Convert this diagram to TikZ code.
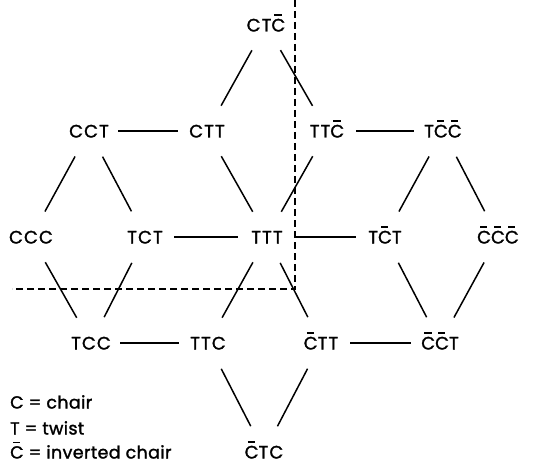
\documentclass[tikz,border=0pt]{standalone}
\usepackage{fontspec}
\setmainfont{Poppins}[LetterSpace=2, FakeBold=1.5]
\newfontfamily\labelfont{Poppins}[LetterSpace=6, FakeBold=1.5]
% inverted chair: C with a short bar above it
\newcommand\Cb{\mbox{\rlap{\hspace{0.17em}\rule[0.88em]{0.40em}{0.09em}}C}}
\begin{document}
\begin{tikzpicture}[x=1pt,y=-1pt,
  conf/.style={inner sep=0pt, text height=13pt, text depth=0pt, font=\labelfont\fontsize{18}{18}\selectfont},
  legend/.style={inner sep=0pt, text height=13pt, text depth=0pt, anchor=west, font=\fontsize{17.5}{17.5}\selectfont},
  link/.style={line width=1.5pt, shorten >=29pt, shorten <=29pt},
  cut/.style={line width=1.3pt, dash pattern=on 7pt off 4pt}]
\useasboundingbox (0,0) rectangle (545,465);

% conformations
\node[conf] (ctcb)   at (266,25)  {CT\Cb};
\node[conf] (cct)    at (89,131)  {CCT};
\node[conf] (ctt)    at (207,131) {CTT};
\node[conf] (ttcb)   at (327,131) {TT\Cb};
\node[conf] (tcbcb)  at (443,131) {T\Cb\Cb};
\node[conf] (ccc)    at (31,237)  {CCC};
\node[conf] (tct)    at (145,237) {TCT};
\node[conf] (ttt)    at (267,237) {TTT};
\node[conf] (tcbt)   at (385,237) {T\Cb T};
\node[conf] (cbcbcb) at (498,237) {\Cb\Cb\Cb};
\node[conf] (tcc)    at (91,343)  {TCC};
\node[conf] (ttc)    at (208,343) {TTC};
\node[conf] (cbtt)   at (321,343) {\Cb TT};
\node[conf] (cbcbt)  at (440,343) {\Cb\Cb T};
\node[conf] (cbtc)   at (264,452) {\Cb TC};

% interconversions
\foreach \a/\b in {ctcb/ctt, ctcb/ttcb, cct/ctt, ttcb/tcbcb,
                   cct/ccc, cct/tct, ctt/ttt, ttcb/ttt, tcbcb/tcbt, tcbcb/cbcbcb,
                   tct/ttt, ttt/tcbt,
                   ccc/tcc, tct/tcc, ttt/ttc, ttt/cbtt, tcbt/cbcbt, cbcbcb/cbcbt,
                   tcc/ttc, cbtt/cbcbt, ttc/cbtc, cbtt/cbtc}
  \draw[link] (\a.center) -- (\b.center);

% dividing lines
\coordinate (top)    at (295,0);
\coordinate (corner) at (295,289);
\coordinate (left)   at (12,289);
\draw[cut] (top) -- (corner) -- (left);

% legend
\node[legend] (lc) at (10,402) {C = chair};
\node[legend] (lt) at (10,428) {T = twist};
\node[legend] (lb) at (10,452) {\Cb{} = inverted chair};
\end{tikzpicture}
\end{document}
